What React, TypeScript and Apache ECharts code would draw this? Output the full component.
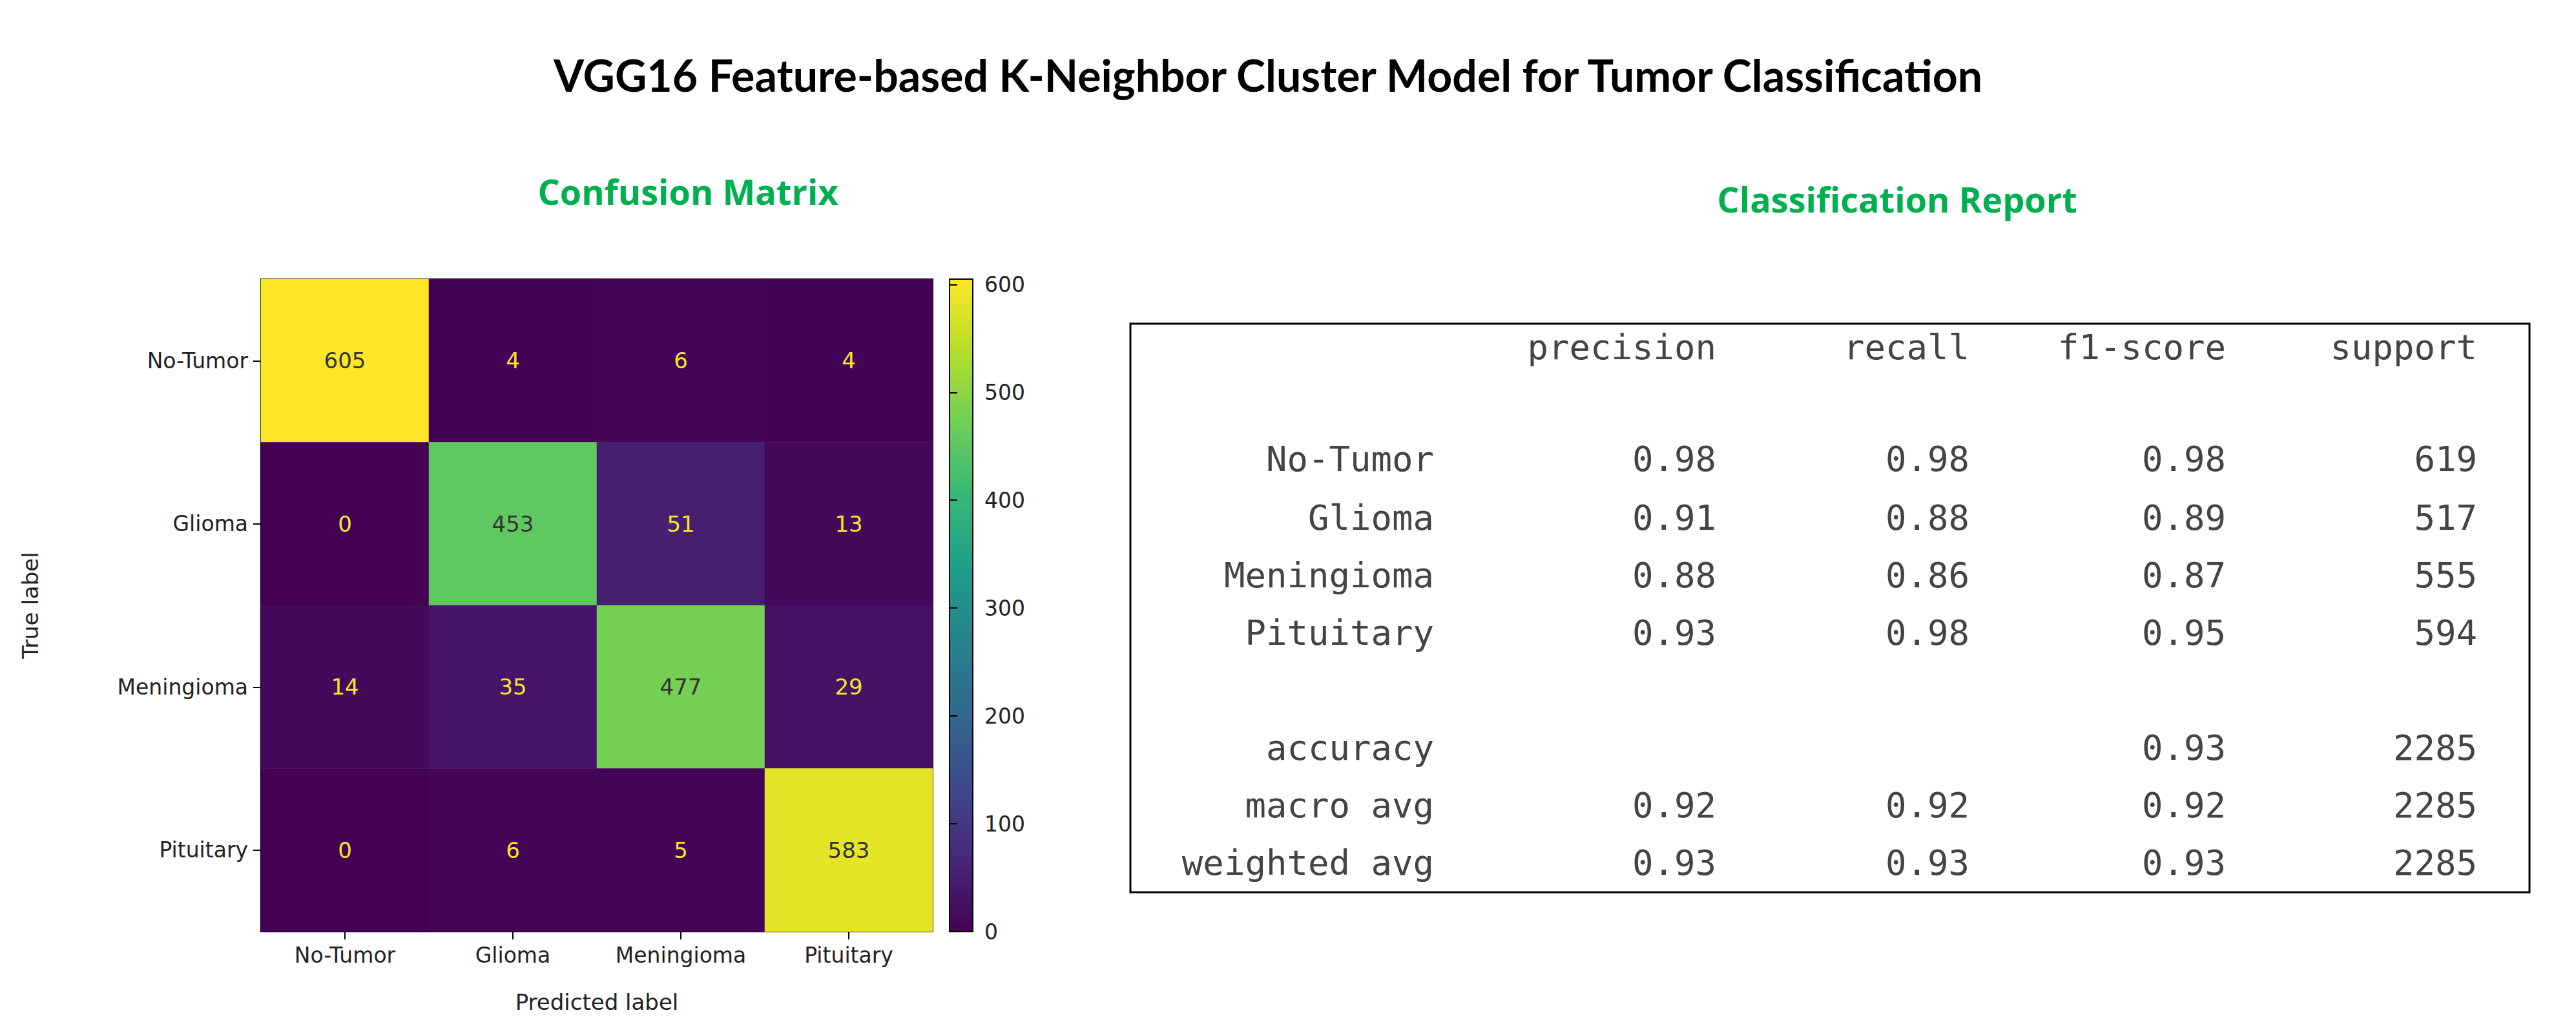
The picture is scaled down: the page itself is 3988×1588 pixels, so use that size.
import React, { useEffect, useRef } from "react";
import * as echarts from "echarts";

const classes = ["No-Tumor", "Glioma", "Meningioma", "Pituitary"];
// rows = true label, cols = predicted label
const matrix = [
  [605, 4, 6, 4],
  [0, 453, 51, 13],
  [14, 35, 477, 29],
  [0, 6, 5, 583],
];
const colorTicks = [0, 100, 200, 300, 400, 500, 600];

const reportHeader = ["precision", "recall", "f1-score", "support"];
const reportRows = ["No-Tumor", "Glioma", "Meningioma", "Pituitary"];
const precision = ["0.98", "0.91", "0.88", "0.93"];
const recall = ["0.98", "0.88", "0.86", "0.98"];
const f1 = ["0.98", "0.89", "0.87", "0.95"];
const support = ["619", "517", "555", "594"];
const summaryRows = ["accuracy", "macro avg", "weighted avg"];
const summaryValues = [
  ["", "", "0.93", "2285"],
  ["0.92", "0.92", "0.92", "2285"],
  ["0.93", "0.93", "0.93", "2285"],
];

const viridis = ["#440154", "#482878", "#3e4989", "#31688e", "#26828e", "#1f9e89", "#35b779", "#6ece58", "#b5de2b", "#fde725"];

const App: React.FC = () => {
  const ref = useRef<HTMLDivElement | null>(null);

  useEffect(() => {
    if (!ref.current) return;
    const chart = echarts.init(ref.current, null, { renderer: "svg" });

    const cells: any[] = [];
    matrix.forEach((row, r) =>
      row.forEach((v, c) => {
        cells.push({ value: [c, r, v], label: { color: v > 300 ? "#333333" : "#f5e62a" } });
      })
    );

    // classification report as text
    const mono = "'DejaVu Sans Mono', 'Liberation Mono', monospace";
    const colX = [2212, 2649, 3041, 3438, 3827];
    const txt = (s: string, x: number, y: number) => ({
      type: "text",
      x,
      y,
      style: { text: s, font: `54px ${mono}`, fill: "#444444", align: "right", verticalAlign: "middle" },
    });
    const report: any[] = [];
    reportHeader.forEach((h, i) => report.push(txt(h, colX[i + 1], 529)));
    const rowY = [702, 793, 882, 971];
    reportRows.forEach((n, i) => {
      report.push(txt(n, colX[0], rowY[i]));
      [precision[i], recall[i], f1[i], support[i]].forEach((v, j) => report.push(txt(v, colX[j + 1], rowY[i])));
    });
    const sumY = [1149, 1238, 1327];
    summaryRows.forEach((n, i) => {
      report.push(txt(n, colX[0], sumY[i]));
      summaryValues[i].forEach((v, j) => v && report.push(txt(v, colX[j + 1], sumY[i])));
    });

    chart.setOption({
      animation: false,
      backgroundColor: "#ffffff",
      title: [
        {
          text: "VGG16 Feature-based K-Neighbor Cluster Model for Tumor Classification",
          left: 1950,
          top: 68,
          textAlign: "center",
          textStyle: { fontSize: 68, fontWeight: "bold", color: "#000", fontFamily: "Lato" },
        },
        {
          text: "Confusion Matrix",
          left: 1052,
          top: 256,
          textAlign: "center",
          textStyle: { fontSize: 54, fontWeight: "bold", color: "#00b050", fontFamily: "'Open Sans'" },
        },
        {
          text: "Classification Report",
          left: 2924,
          top: 268,
          textAlign: "center",
          textStyle: { fontSize: 54, fontWeight: "bold", color: "#00b050", fontFamily: "'Open Sans'" },
        },
      ],
      grid: [
        { left: 396, top: 424, width: 1040, height: 1010, show: true, borderColor: "#000", borderWidth: 2, backgroundColor: "transparent" },
        {
          left: 1462,
          top: 424,
          width: 36,
          height: 1010,
          show: true,
          borderColor: "#000",
          borderWidth: 2,
          backgroundColor: new echarts.graphic.LinearGradient(
            0, 1, 0, 0,
            viridis.map((c, i) => ({ offset: i / (viridis.length - 1), color: c }))
          ),
        },
      ],
      xAxis: [
        {
          type: "category",
          data: classes,
          gridIndex: 0,
          name: "Predicted label",
          nameLocation: "middle",
          nameGap: 92,
          nameTextStyle: { fontSize: 34, color: "#222", fontFamily: "'DejaVu Sans'" },
          axisLine: { show: true, lineStyle: { color: "#000", width: 2 } },
          axisTick: { show: true, alignWithLabel: true, length: 12, lineStyle: { color: "#000", width: 2 } },
          axisLabel: { interval: 0, fontSize: 33, color: "#222", margin: 20, fontFamily: "'DejaVu Sans'" },
          splitLine: { show: false },
        },
        { type: "value", gridIndex: 1, show: false, min: 0, max: 1 },
      ],
      yAxis: [
        {
          type: "category",
          data: classes,
          inverse: true,
          gridIndex: 0,
          name: "True label",
          nameLocation: "middle",
          nameGap: 340,
          nameTextStyle: { fontSize: 34, color: "#222", fontFamily: "'DejaVu Sans'" },
          axisLine: { show: true, lineStyle: { color: "#000", width: 2 } },
          axisTick: { show: true, alignWithLabel: true, length: 12, lineStyle: { color: "#000", width: 2 } },
          axisLabel: { interval: 0, fontSize: 33, color: "#222", margin: 20, fontFamily: "'DejaVu Sans'" },
        },
        {
          type: "value",
          gridIndex: 1,
          position: "right",
          min: 0,
          max: 605,
          interval: 100,
          axisLine: { show: false },
          axisTick: { show: true, length: 12, lineStyle: { color: "#000", width: 2 } },
          axisLabel: { fontSize: 33, color: "#222", margin: 18, fontFamily: "'DejaVu Sans'",
            formatter: (v: number) => (colorTicks.includes(v) ? String(v) : "") },
          splitLine: { show: false },
        },
      ],
      visualMap: {
        show: false,
        min: 0,
        max: 605,
        seriesIndex: 0,
        inRange: { color: viridis },
      },
      series: [
        {
          type: "heatmap",
          xAxisIndex: 0,
          yAxisIndex: 0,
          data: cells,
          label: { show: true, fontSize: 34, fontFamily: "'DejaVu Sans'" },
        },
        { type: "scatter", xAxisIndex: 1, yAxisIndex: 1, data: [] },
      ],
      graphic: [
        {
          type: "rect",
          shape: { x: 1742, y: 493, width: 2166, height: 880 },
          style: { fill: "none", stroke: "#000", lineWidth: 3 },
        },
        ...report,
      ],
    });

    return () => chart.dispose();
  }, []);

  return <div ref={ref} style={{ width: "3972px", height: "1572px" }} />;
};

export default App;
